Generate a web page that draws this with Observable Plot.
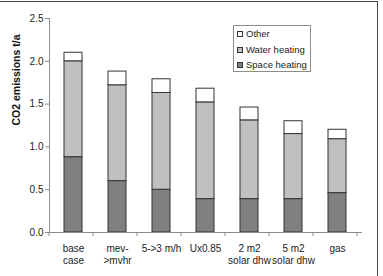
<!DOCTYPE html>
<html>
<head>
<meta charset="utf-8">
<script src="https://cdn.jsdelivr.net/npm/d3@7"></script>
<script src="https://cdn.jsdelivr.net/npm/@observablehq/plot@0.6"></script>
<style>
  html, body { margin: 0; padding: 0; background: #fff; }
  #wrap { position: relative; width: 383px; height: 276px; overflow: hidden; font-family: "Liberation Sans", Arial, sans-serif; }
  #border { position: absolute; left: -3px; top: 1px; width: 381px; height: 280px; border: 1px solid #444; box-sizing: border-box; pointer-events: none; }
  #legend { position: absolute; left: 233px; top: 25px; width: 78px; height: 47px; border: 1px solid #8c8c8c; box-sizing: border-box; background: #fff; font-size: 9.5px; color: #222; }
  #legend .row { position: absolute; left: 3px; height: 12px; line-height: 12px; white-space: nowrap; }
  #legend .sw { display: inline-block; width: 4px; height: 4px; border: 1px solid #333; margin-right: 3px; vertical-align: 0px; }
</style>
</head>
<body>
<div id="wrap"></div>
<script>
// Scenario labels (line breaks as shown under each bar)
const categories = ["base\ncase", "mev-\n>mvhr", "5->3 m/h", "Ux0.85", "2 m2\nsolar dhw", "5 m2\nsolar dhw", "gas"];

// Emissions per end use, t/a
const spaceHeating = [0.88, 0.60, 0.50, 0.39, 0.39, 0.39, 0.46];
const waterHeating = [1.12, 1.12, 1.13, 1.13, 0.92, 0.76, 0.63];
const other        = [0.10, 0.16, 0.16, 0.16, 0.15, 0.15, 0.11];

const seriesNames = ["Space heating", "Water heating", "Other"];
const seriesColors = ["#808080", "#c0c0c0", "#ffffff"];
const yTicks = [0, 0.5, 1.0, 1.5, 2.0, 2.5];

// Long-format table, bottom segment first so stacking runs space → water → other
const seriesValues = [spaceHeating, waterHeating, other];
const data = [];
categories.forEach((cat, i) => {
  seriesNames.forEach((s, k) => data.push({cat, series: s, value: seriesValues[k][i]}));
});

const chart = Plot.plot({
  width: 383,
  height: 276,
  marginLeft: 49,
  marginRight: 22,
  marginTop: 18,
  marginBottom: 44,
  style: {fontFamily: "'Liberation Sans', Arial, sans-serif", fontSize: "10px", color: "#222", background: "transparent"},
  x: {domain: categories, padding: 0, label: null},
  y: {domain: [0, 2.5], label: null},
  color: {domain: seriesNames, range: seriesColors},
  marks: [
    Plot.barY(data, {x: "cat", y: "value", fill: "series", stroke: "#333", strokeWidth: 1, insetLeft: 13, insetRight: 13, order: seriesNames}),
    Plot.frame({anchor: "left", stroke: "#8c8c8c"}),
    Plot.frame({anchor: "bottom", stroke: "#8c8c8c"}),
    Plot.axisY({ticks: yTicks, tickFormat: d3.format(".1f"), tickSize: 4, tickPadding: 2, stroke: "#8c8c8c", fill: "#222", label: null}),
    Plot.axisX({tickSize: 0, tickPadding: 11, lineHeight: 1.2, fill: "#222", label: null}),
    Plot.text(["CO2 emissions t/a"], {frameAnchor: "left", rotate: -90, dx: -33, fontWeight: "bold", fontSize: 10.5, fill: "#111"})
  ]
});

// Tick marks on the category axis sit on the band boundaries
const xs = chart.scale("x");
const ys = chart.scale("y");
const y0 = ys.apply(0);
const svg = d3.select(chart.tagName.toLowerCase() === "svg" ? chart : chart.querySelector("svg"));
const bounds = categories.map((c, i) => xs.range[0] + i * xs.bandwidth).concat([xs.range[0] + categories.length * xs.bandwidth]);
svg.append("g")
  .attr("stroke", "#8c8c8c")
  .selectAll("line")
  .data(bounds)
  .join("line")
  .attr("x1", d => d).attr("x2", d => d)
  .attr("y1", y0).attr("y2", y0 + 4);

const wrap = document.getElementById("wrap");
wrap.appendChild(chart);

// Legend, listed top to bottom in stack order
const legend = document.createElement("div");
legend.id = "legend";
seriesNames.slice().reverse().forEach((name, j) => {
  const k = seriesNames.indexOf(name);
  const row = document.createElement("div");
  row.className = "row";
  row.style.top = (2 + j * 15.5) + "px";
  row.innerHTML = `<span class="sw" style="background:${seriesColors[k]}"></span>${name}`;
  legend.appendChild(row);
});
wrap.appendChild(legend);

const border = document.createElement("div");
border.id = "border";
wrap.appendChild(border);
</script>
</body>
</html>
